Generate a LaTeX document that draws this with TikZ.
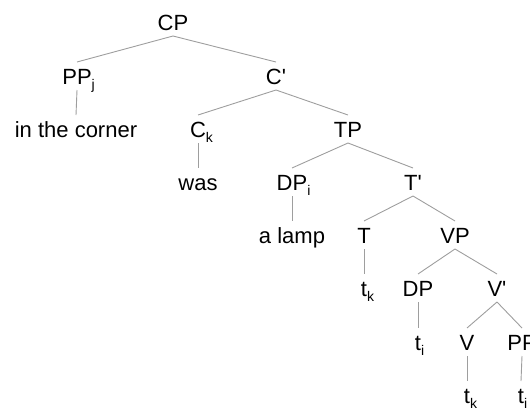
\documentclass[tikz,border=0pt]{standalone}
\usepackage{fontspec}
\setmainfont{Liberation Sans}
\usepackage{tikz}
\usetikzlibrary{positioning,calc}

\newcommand{\idx}[1]{\rlap{\raisebox{-5pt}{\fontsize{14}{14}\selectfont #1}}}
\newcommand{\prm}{\textquotesingle}

\tikzset{
  cat/.style={inner sep=0pt, outer ysep=6pt, text height=16pt, text depth=0pt,
    font=\fontsize{22}{26}\selectfont},
  branch/.style={draw=black!38, line width=0.9pt}
}

\begin{document}
\begin{tikzpicture}[x=1pt,y=-1pt]
   \useasboundingbox (0,0) rectangle (530,407);
   % categories
   \node[cat] (cp)   at (173,22)  {CP};
   \node[cat] (ppj)  at (77,76)   {PP\idx{j}};
   \node[cat] (cbar) at (276,76)  {C\prm};
   \node[cat] (corner) at (76,129) {in the corner};
   \node[cat] (ck)   at (198,129) {C\idx{k}};
   \node[cat] (tp)   at (348,129) {TP};
   \node[cat] (was)  at (198,182) {was};
   \node[cat] (dpi)  at (292,182) {DP\idx{i}};
   \node[cat] (tbar) at (413,182) {T\prm};
   \node[cat] (lamp) at (292,235) {a lamp};
   \node[cat] (t)    at (364,235) {T};
   \node[cat] (vp)   at (455,235) {VP};
   \node[cat] (tk)   at (364,288) {t\idx{k}};
   \node[cat] (dp)   at (418,288) {DP};
   \node[cat] (vbar) at (497,288) {V\prm};
   \node[cat] (ti)   at (418,342) {t\idx{i}};
   \node[cat] (v)    at (467,342) {V};
   \node[cat] (pp)   at (522,342) {PP};
   \node[cat] (tkk)  at (467,395) {t\idx{k}};
   \node[cat] (tii)  at (521,395) {t\idx{i}};
   % branches
   \draw[branch] (cp.south) -- (ppj.north);
   \draw[branch] (cp.south) -- (cbar.north);
   \draw[branch] (ppj.south) -- (corner.north);
   \draw[branch] (cbar.south) -- (ck.north);
   \draw[branch] (cbar.south) -- (tp.north);
   \draw[branch] (ck.south) -- (was.north);
   \draw[branch] (tp.south) -- (dpi.north);
   \draw[branch] (tp.south) -- (tbar.north);
   \draw[branch] (dpi.south) -- (lamp.north);
   \draw[branch] (tbar.south) -- (t.north);
   \draw[branch] (tbar.south) -- (vp.north);
   \draw[branch] (t.south) -- (tk.north);
   \draw[branch] (vp.south) -- (dp.north);
   \draw[branch] (vp.south) -- (vbar.north);
   \draw[branch] (dp.south) -- (ti.north);
   \draw[branch] (vbar.south) -- (v.north);
   \draw[branch] (vbar.south) -- (pp.north);
   \draw[branch] (v.south) -- (tkk.north);
   \draw[branch] (pp.south) -- (tii.north);
\end{tikzpicture}
\end{document}
